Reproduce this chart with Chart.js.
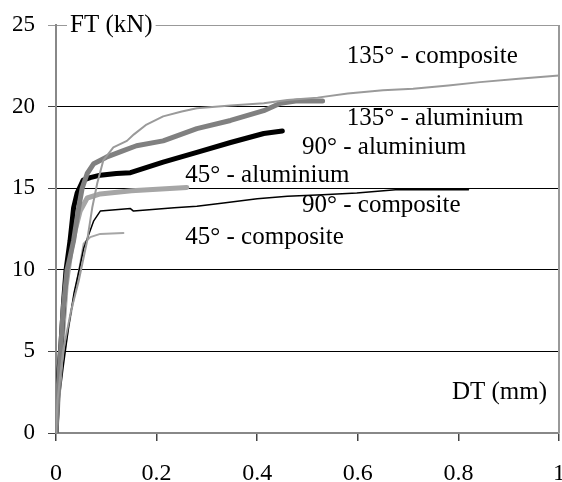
<!DOCTYPE html>
<html>
<head>
<meta charset="utf-8">
<script src="https://cdn.jsdelivr.net/npm/chart.js@4/dist/chart.umd.min.js"></script>
<style>
html,body{margin:0;padding:0;background:#fff;}
#wrap{width:562px;height:482px;position:relative;}
</style>
</head>
<body>
<div id="wrap"><canvas id="c" width="562" height="482"></canvas></div>
<script>
// ---- Data (DT in mm, FT in kN) ----
const dt135c = [0, 0.003, 0.014, 0.03, 0.045, 0.062, 0.072, 0.082, 0.094, 0.114, 0.141, 0.155, 0.18, 0.213, 0.25, 0.28, 0.347, 0.413, 0.46, 0.52, 0.58, 0.65, 0.71, 0.78, 0.843, 0.92, 1.0];
const ft135c = [0, 2, 5, 7.5, 9.3, 11.8, 13.8, 15.3, 16.7, 17.5, 17.9, 18.3, 18.9, 19.4, 19.7, 19.9, 20.06, 20.2, 20.4, 20.55, 20.8, 21.0, 21.1, 21.3, 21.5, 21.7, 21.9];

const dt135a = [0, 0.004, 0.009, 0.014, 0.022, 0.028, 0.035, 0.045, 0.052, 0.062, 0.075, 0.1, 0.134, 0.16, 0.213, 0.28, 0.347, 0.413, 0.446, 0.48, 0.53];
const ft135a = [0, 2.5, 5, 7.5, 10, 10.8, 11.8, 13.8, 15.0, 15.9, 16.5, 16.9, 17.3, 17.6, 17.9, 18.65, 19.15, 19.75, 20.2, 20.35, 20.35];

const dt90a = [0, 0.004, 0.01, 0.015, 0.02, 0.028, 0.035, 0.042, 0.054, 0.068, 0.088, 0.12, 0.148, 0.213, 0.28, 0.347, 0.413, 0.45];
const ft90a = [0, 3, 5.5, 8, 10, 11.8, 13.8, 14.7, 15.5, 15.65, 15.8, 15.9, 15.95, 16.6, 17.2, 17.8, 18.35, 18.5];

const dt45a = [0, 0.006, 0.012, 0.02, 0.03, 0.038, 0.048, 0.062, 0.088, 0.15, 0.26];
const ft45a = [0, 3, 5.5, 9, 11.2, 12.4, 13.6, 14.4, 14.65, 14.85, 15.05];

const dt90c = [0, 0.004, 0.014, 0.025, 0.036, 0.046, 0.055, 0.075, 0.088, 0.148, 0.154, 0.235, 0.28, 0.333, 0.4, 0.46, 0.53, 0.598, 0.675, 0.82];
const ft90c = [0, 1.5, 4, 6.5, 8.6, 10.0, 11.3, 13.0, 13.6, 13.75, 13.6, 13.8, 13.9, 14.1, 14.35, 14.5, 14.6, 14.7, 14.9, 14.9];

const dt45c = [0, 0.005, 0.014, 0.025, 0.035, 0.045, 0.055, 0.068, 0.088, 0.134];
const ft45c = [0, 2, 4.5, 6.5, 8.2, 9.8, 11.6, 12.0, 12.2, 12.25];

const seriesNames = ['135° - composite', '135° - aluminium', '90° - aluminium', '45° - aluminium', '90° - composite', '45° - composite'];
const xTicks = [0, 0.2, 0.4, 0.6, 0.8, 1];
const yTicks = [0, 5, 10, 15, 20, 25];
const xTitle = 'DT (mm)';
const yTitle = 'FT (kN)';

// label anchor positions in data units (left edge, vertical middle)
const labelX = [0.578, 0.578, 0.489, 0.257, 0.489, 0.257];
const labelY = [23.1, 19.27, 17.5, 15.78, 13.94, 11.98];

function pts(xs, ys){ return xs.map((x,i)=>({x:x, y:ys[i]})); }

const styles = [
  {color:'#9a9a9a', width:2},
  {color:'#808080', width:5},
  {color:'#000000', width:5},
  {color:'#a6a6a6', width:5},
  {color:'#000000', width:1.5},
  {color:'#a6a6a6', width:2}
];
const dataX = [dt135c, dt135a, dt90a, dt45a, dt90c, dt45c];
const dataY = [ft135c, ft135a, ft90a, ft45a, ft90c, ft45c];

const datasets = seriesNames.map((n,i)=>({
  label: n,
  data: pts(dataX[i], dataY[i]),
  borderColor: styles[i].color,
  borderWidth: styles[i].width,
  showLine: true,
  pointRadius: 0,
  tension: 0,
  borderCapStyle: 'round',
  borderJoinStyle: 'round',
  fill: false
}));

const FONT = 'Liberation Serif';

const textPlugin = {
  id: 'texts',
  afterDatasetsDraw(chart){
    const ctx = chart.ctx;
    const xs = chart.scales.x, ys = chart.scales.y;
    const ca = chart.chartArea;
    ctx.save();
    // right border
    ctx.strokeStyle = '#999';
    ctx.lineWidth = 2;
    ctx.beginPath();
    ctx.moveTo(ca.right, ca.top);
    ctx.lineTo(ca.right, ca.bottom);
    ctx.stroke();
    ctx.font = '25px "' + FONT + '"';
    ctx.fillStyle = '#000';
    ctx.textBaseline = 'middle';
    ctx.textAlign = 'left';
    seriesNames.forEach((n,i)=>{
      ctx.fillText(n, xs.getPixelForValue(labelX[i]), ys.getPixelForValue(labelY[i]));
    });
    // y title with white box over the top border
    const tx = ca.left + 14, ty = ca.top;
    const w = ctx.measureText(yTitle).width;
    ctx.fillStyle = '#fff';
    ctx.fillRect(tx - 3, ty - 3, w + 6, 6);
    ctx.fillStyle = '#000';
    ctx.fillText(yTitle, tx, ty);
    // x title
    ctx.textAlign = 'right';
    ctx.fillText(xTitle, ca.right - 12, ys.getPixelForValue(2.5));
    ctx.restore();
  }
};

new Chart(document.getElementById('c'), {
  type: 'scatter',
  data: { datasets },
  options: {
    responsive: false,
    animation: false,
    events: [],
    layout: { padding: { top: 25, right: 3, left: 0, bottom: 0 } },
    plugins: { legend: { display: false }, tooltip: { enabled: false } },
    scales: {
      x: {
        type: 'linear',
        min: 0, max: 1,
        afterBuildTicks(s){ s.ticks = xTicks.map(v=>({value:v})); },
        afterFit(s){ s.height = 49; s.paddingLeft = 0; s.paddingRight = 0; },
        border: { display: true, color: '#888', width: 2 },
        grid: { drawOnChartArea: false, drawTicks: true, tickLength: 8, color: '#444', lineWidth: 1.5 },
        ticks: {
          color: '#000', font: { family: FONT, size: 24 }, padding: 18,
          maxRotation: 0, autoSkip: false,
          callback: v => String(v)
        }
      },
      y: {
        type: 'linear',
        min: 0, max: 25,
        afterBuildTicks(s){ s.ticks = yTicks.map(v=>({value:v})); },
        afterFit(s){ s.width = 56; s.paddingTop = 0; s.paddingBottom = 0; },
        border: { display: true, color: '#888', width: 2 },
        grid: {
          drawTicks: true, tickLength: 8, lineWidth: 1,
          color: c => (c.tick && c.tick.value === 25) ? '#999' : (c.tick && c.tick.value === 0 ? '#888' : '#000'),
          tickColor: c => (c.tick && c.tick.value === 25) ? '#999' : '#444'
        },
        ticks: {
          color: '#000', font: { family: FONT, size: 23 }, padding: 13,
          autoSkip: false,
          callback: v => String(v)
        }
      }
    }
  },
  plugins: [textPlugin]
});
</script>
</body>
</html>
